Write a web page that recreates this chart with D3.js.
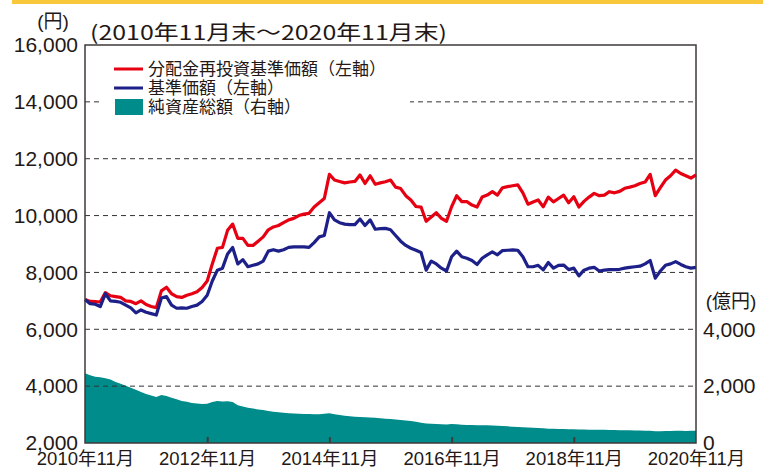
<!DOCTYPE html>
<html>
<head>
<meta charset="utf-8">
<script src="https://cdn.jsdelivr.net/npm/d3@7"></script>
<style>
  body { margin: 0; background: #fff; }
  svg { display: block; }
  text { font-family: "Liberation Sans", Arial, "Noto Sans CJK JP", sans-serif; fill: #231815; }
</style>
</head>
<body>
<div id="app"></div>
<script>
// monthly, 2010/11 .. 2020/11 (121 points)
const reinvested = [
  7050, 6980, 6970, 6960, 7290, 7180, 7150, 7120, 7000, 6980,
  6900, 7000, 6870, 6800, 6760, 7350, 7480, 7250, 7150, 7120,
  7200, 7250, 7320, 7470, 7700, 8300, 8850, 8880, 9480, 9700,
  9200, 9200, 8950, 8950, 9100, 9250, 9500, 9600, 9650, 9750,
  9850, 9900, 10000, 10050, 10080, 10300, 10450, 10600, 11450, 11250,
  11200, 11150, 11180, 11200, 11430, 11130, 11400, 11100, 11150, 11190,
  11250, 11000, 10950, 10700, 10550, 10320, 10300, 9800, 9950, 10100,
  9900, 9800, 10310, 10700, 10490, 10490, 10370, 10300, 10650, 10720,
  10840, 10720, 10980, 11020, 11050, 11080, 10800, 10400, 10480, 10550,
  10310, 10650, 10480, 10600, 10720, 10450, 10660, 10300, 10500, 10650,
  10780, 10700, 10720, 10840, 10800, 10850, 10960, 11000, 11050, 11130,
  11180, 11450, 10700, 10980, 11250, 11400, 11600, 11480, 11400, 11320,
  11430
];
const nav = [
  7050, 6900, 6880, 6800, 7250, 7000, 6980, 6950, 6850, 6750,
  6580, 6680, 6600, 6550, 6500, 7100, 7150, 6850, 6740, 6750,
  6740, 6800, 6850, 6980, 7200, 7700, 8080, 8150, 8650, 8880,
  8300, 8450, 8200, 8250, 8300, 8400, 8750, 8800, 8750, 8800,
  8880, 8900, 8900, 8900, 8880, 9050, 9250, 9300, 10100, 9850,
  9750, 9700, 9680, 9680, 9880, 9650, 9850, 9520, 9540, 9550,
  9500, 9300, 9100, 8950, 8850, 8780, 8700, 8080, 8400, 8300,
  8150, 8050, 8550, 8750, 8550, 8500, 8420, 8280, 8500, 8620,
  8720, 8620, 8770, 8780, 8790, 8780, 8550, 8200, 8200, 8250,
  8090, 8350, 8150, 8250, 8260, 8100, 8150, 7880, 8080, 8150,
  8180, 8050, 8080, 8100, 8100, 8110, 8150, 8180, 8200, 8220,
  8300, 8420, 7800, 8050, 8250, 8300, 8380, 8280, 8200, 8150,
  8180
];
// 純資産総額 (億円)
const netAssets = [
  2450, 2380, 2330, 2310, 2280, 2230, 2150, 2080, 2010, 1940,
  1870, 1790, 1720, 1670, 1620, 1690, 1650, 1590, 1540, 1480,
  1450, 1410, 1390, 1370, 1380, 1440, 1480, 1460, 1470, 1440,
  1330, 1280, 1240, 1210, 1180, 1160, 1130, 1100, 1080, 1060,
  1050, 1040, 1030, 1020, 1020, 1010, 1010, 1030, 1050, 1010,
  985, 960, 940, 925, 915, 905, 895, 885, 870, 855,
  840, 825, 805, 790, 770, 745, 710, 690, 675, 665,
  660, 655, 670, 660, 645, 635, 630, 625, 620, 620,
  615, 605, 595, 585, 575, 565, 555, 545, 535, 525,
  515, 505, 500, 495, 490, 485, 480, 478, 475, 470,
  468, 465, 462, 460, 455, 450, 448, 445, 440, 437,
  432, 430, 415, 410, 420, 425, 430, 428, 425, 428,
  430
];
const xTickMonths = [0, 24, 48, 72, 96, 120];
const xTickLabels = ["2010年11月", "2012年11月", "2014年11月", "2016年11月", "2018年11月", "2020年11月"];
const leftTicks = [2000, 4000, 6000, 8000, 10000, 12000, 14000, 16000];
const rightTicks = [0, 2000, 4000];
const legendItems = [
  { label: "分配金再投資基準価額（左軸）", color: "#e60012", type: "line" },
  { label: "基準価額（左軸）", color: "#1d2088", type: "line" },
  { label: "純資産総額（右軸）", color: "#008c8a", type: "rect" }
];

const W = 763, H = 468;
const plot = { left: 85, right: 696, top: 45, bottom: 443 };

const svg = d3.select("#app").append("svg")
  .attr("width", W)
  .attr("height", H);

// yellow band at top
svg.append("rect")
  .attr("x", 12).attr("y", 0)
  .attr("width", W - 12).attr("height", 4)
  .attr("fill", "#f8c73a");

const x = d3.scaleLinear().domain([0, 120]).range([plot.left, plot.right]);
const y = d3.scaleLinear().domain([2000, 16000]).range([plot.bottom, plot.top]);
const yR = d3.scaleLinear().domain([0, 14000]).range([plot.bottom, plot.top]);

// net assets area (right axis)
svg.append("path")
  .datum(netAssets)
  .attr("fill", "#008c8a")
  .attr("d", d3.area()
    .x((d, i) => x(i))
    .y0(yR(0))
    .y1(d => yR(d)));

// dashed gridlines
svg.append("g")
  .selectAll("line")
  .data(leftTicks.filter(v => v > 2000 && v < 16000))
  .join("line")
    .attr("x1", plot.left).attr("x2", plot.right)
    .attr("y1", d => y(d)).attr("y2", d => y(d))
    .attr("stroke", "#333")
    .attr("stroke-width", 1)
    .attr("stroke-dasharray", "5,4");

// lines
const line = d3.line().x((d, i) => x(i)).y(d => y(d));
svg.append("path")
  .datum(reinvested)
  .attr("fill", "none")
  .attr("stroke", "#e60012")
  .attr("stroke-width", 3.2)
  .attr("stroke-linejoin", "round")
  .attr("d", line);
svg.append("path")
  .datum(nav)
  .attr("fill", "none")
  .attr("stroke", "#1d2088")
  .attr("stroke-width", 3.2)
  .attr("stroke-linejoin", "round")
  .attr("d", line);

// legend (white box hides the gridline)
const legend = svg.append("g");
legend.append("rect")
  .attr("x", 100).attr("y", 55)
  .attr("width", 310).attr("height", 64)
  .attr("fill", "#fff");
legendItems.forEach((item, i) => {
  const cy = 69 + i * 19;
  if (item.type === "line") {
    legend.append("line")
      .attr("x1", 114).attr("x2", 143)
      .attr("y1", cy).attr("y2", cy)
      .attr("stroke", item.color)
      .attr("stroke-width", 3);
  } else {
    legend.append("rect")
      .attr("x", 115).attr("y", cy - 8)
      .attr("width", 28).attr("height", 16)
      .attr("fill", item.color);
  }
  legend.append("text")
    .attr("x", 148).attr("y", cy)
    .attr("dy", "0.36em")
    .style("font-family", "'Noto Sans CJK JP', sans-serif")
    .style("font-size", "17px")
    .text(item.label);
});

// frame
svg.append("rect")
  .attr("x", plot.left).attr("y", plot.top)
  .attr("width", plot.right - plot.left).attr("height", plot.bottom - plot.top)
  .attr("fill", "none")
  .attr("stroke", "#3e3a39")
  .attr("stroke-width", 1.5);

// left axis
const axL = svg.append("g")
  .attr("transform", `translate(${plot.left},0)`)
  .call(d3.axisLeft(y).tickValues(leftTicks).tickFormat(d3.format(",")).tickSize(0).tickPadding(7));
axL.select(".domain").remove();
axL.selectAll("text")
  .style("font-size", "21px")
  .style("font-family", "'Liberation Sans', Arial, sans-serif")
  .attr("fill", "#231815");

// right axis
const axR = svg.append("g")
  .attr("transform", `translate(${plot.right},0)`)
  .call(d3.axisRight(yR).tickValues(rightTicks).tickFormat(d3.format(",")).tickSize(0).tickPadding(7));
axR.select(".domain").remove();
axR.selectAll("text")
  .style("font-size", "21px")
  .style("font-family", "'Liberation Sans', Arial, sans-serif")
  .attr("fill", "#231815");

// bottom axis, ticks pointing inward
const axB = svg.append("g")
  .attr("transform", `translate(0,${plot.bottom})`)
  .call(d3.axisBottom(x).tickValues(xTickMonths).tickFormat((d, i) => xTickLabels[i]).tickSize(0).tickPadding(9));
axB.select(".domain").remove();
axB.selectAll("text")
  .style("font-size", "18.5px")
  .attr("fill", "#231815");
axB.selectAll(".tick")
  .filter(d => d > 0 && d < 120)
  .append("line")
    .attr("y1", 0).attr("y2", -6)
    .attr("stroke", "#3e3a39")
    .attr("stroke-width", 2);

// unit labels and title
svg.append("text")
  .attr("x", 53).attr("y", 28)
  .attr("text-anchor", "middle")
  .style("font-size", "19px")
  .text("(円)");
svg.append("text")
  .attr("x", 731).attr("y", 308)
  .attr("text-anchor", "middle")
  .style("font-size", "19px")
  .text("(億円)");
svg.append("text")
  .attr("x", 90).attr("y", 40)
  .attr("textLength", 357)
  .attr("lengthAdjust", "spacingAndGlyphs")
  .style("font-family", "'Noto Sans CJK JP', sans-serif")
  .style("font-size", "20px")
  .text("(2010年11月末～2020年11月末)");
</script>
</body>
</html>
